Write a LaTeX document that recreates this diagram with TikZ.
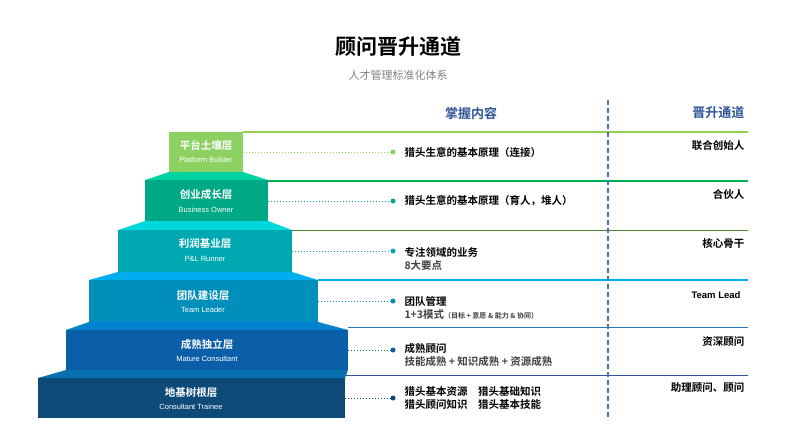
\documentclass[tikz,border=0pt]{standalone}
\usepackage{fontspec}
\setmainfont{Noto Sans CJK SC}
\newfontfamily\cjkb{Noto Sans CJK SC Bold}
\newfontfamily\enf{Liberation Sans}
\definecolor{gA}{HTML}{8DD163}\definecolor{lA}{HTML}{92D050}
\definecolor{tB}{HTML}{00D2A0}\definecolor{gB}{HTML}{00A985}\definecolor{lB}{HTML}{00B050}
\definecolor{tC}{HTML}{00D6DE}\definecolor{gC}{HTML}{00A9B2}\definecolor{lC}{HTML}{548235}
\definecolor{tD}{HTML}{00AEEF}\definecolor{gD}{HTML}{008FBA}\definecolor{lD}{HTML}{00B0F0}
\definecolor{tE}{HTML}{0082CF}\definecolor{gE}{HTML}{0A5FA8}\definecolor{lE}{HTML}{2E75B6}
\definecolor{tF}{HTML}{0871AE}\definecolor{gF}{HTML}{0D4A78}\definecolor{lF}{HTML}{2F5597}
\definecolor{hd}{HTML}{2F5597}\definecolor{dl}{HTML}{4472C4}
\begin{document}
\begin{tikzpicture}[x=1pt,y=-1pt,
  tl/.style={text=white,font=\cjkb\fontsize{10.5}{12}\selectfont,align=center},
  te/.style={text=white,font=\enf\fontsize{7.5}{9}\selectfont},
  ct/.style={anchor=west,font=\cjkb\fontsize{10.5}{13}\selectfont,align=left},
  rt/.style={anchor=east,font=\cjkb\fontsize{10.5}{13}\selectfont},
  dotc/.style={circle,inner sep=0pt,minimum size=5pt}]
\useasboundingbox (0,0) rectangle (807,434);
\node[font=\cjkb\fontsize{21}{24}\selectfont] (title) at (398,47) {顾问晋升通道};
\node[font=\fontsize{11}{13}\selectfont,text=gray] (sub) at (398,75) {人才管理标准化体系};
\node[font=\cjkb\fontsize{13}{15}\selectfont,text=hd] (h1) at (471,113) {掌握内容};
\node[font=\cjkb\fontsize{13}{15}\selectfont,text=hd,anchor=east] (h2) at (748,113) {晋升通道};
% tiers
\newcommand\tier[9]{%
  \fill[#5] (#2,#3) -- (#1,#3) -- (#6,#7) -- (#8,#7) -- cycle;
  \fill[#9] (#6,#7) rectangle (#8,#4);}
\fill[gA] (169,132) rectangle (243,172);
\fill[tB] (169,172) -- (243,172) -- (268,180) -- (145,180) -- cycle;
\fill[gB] (145,180) rectangle (268,221);
\fill[tC] (145,221) -- (268,221) -- (292,230) -- (118,230) -- cycle;
\fill[gC] (118,230) rectangle (292,272);
\fill[tD] (118,272) -- (292,272) -- (318,280) -- (89,280) -- cycle;
\fill[gD] (89,280) rectangle (318,322);
\fill[tE] (89,322) -- (318,322) -- (348,330) -- (66,330) -- cycle;
\fill[gE] (66,330) rectangle (348,370);
\fill[tF] (66,370) -- (348,370) -- (345,378) -- (38,378) -- cycle;
\fill[gF] (38,378) rectangle (345,418);
% lines
\draw[lA,line width=1.5pt] (243,132) -- (748,132);
\draw[lB,line width=1.5pt] (268,181) -- (748,181);
\draw[lC,line width=0.8pt] (292,230) -- (748,230);
\draw[lD,line width=1.3pt] (318,280) -- (748,280);
\draw[lE,line width=0.8pt] (348,327) -- (748,327);
\draw[lF,line width=0.8pt] (345,375) -- (748,375);
\draw[dl,line width=1.8pt,dash pattern=on 5pt off 3pt] (608,100) -- (608,420);
% labels
\node[tl] (a1) at (206,145) {平台土壤层};\node[te] (a2) at (206,160) {Platform Builder};
\node[tl] (b1) at (206,195) {创业成长层};\node[te] (b2) at (206,210) {Business Owner};
\node[tl] (c1) at (205,244) {利润基业层};\node[te] (c2) at (205,259) {P\&L Runner};
\node[tl] (d1) at (203,296) {团队建设层};\node[te] (d2) at (203,310) {Team Leader};
\node[tl] (e1) at (207,345) {成熟独立层};\node[te] (e2) at (207,359) {Mature Consultant};
\node[tl] (f1) at (191,393) {地基树根层};\node[te] (f2) at (191,407) {Consultant Trainee};
% dots and connectors
\foreach \n/\x/\y/\c in {pa/243/152/gA,pb/268/201/gB,pc/292/251/gC,pd/318/301/gD,pe/348/350/gE,pf/345/398/gF}{
  \coordinate (\n) at (\x,\y);
  \node[dotc,fill=\c] (\n d) at (393,\y) {};
  \draw[\c,dotted,line width=1pt] (\n) -- (\n d);}
\node[ct] (ca) at (401,152) {猎头生意的基本原理（连接）};
\node[ct] (cb) at (401,201) {猎头生意的基本原理（育人，堆人）};
\node[ct] (cc) at (401,259) {专注领域的业务\\{\color{darkgray}8大要点}};
\node[ct] (cd) at (401,308) {团队管理\\{\color{darkgray}1+3模式}{\fontsize{7}{8}\selectfont\color{darkgray}（目标 + 意愿 \& 能力 \& 协同）}};
\node[ct] (ce) at (401,355) {成熟顾问\\{\color{darkgray}技能成熟 + 知识成熟 + 资源成熟}};
\node[ct] (cf) at (401,398) {猎头基本资源\quad 猎头基础知识\\猎头顾问知识\quad 猎头基本技能};
% right column
\node[rt] (ra) at (748,146) {联合创始人};
\node[rt] (rb) at (748,194) {合伙人};
\node[rt] (rc) at (748,243) {核心骨干};
\node[rt,font=\enf\bfseries\fontsize{9.5}{11}\selectfont] (rd) at (744,295) {Team Lead};
\node[rt] (re) at (748,342) {资深顾问};
\node[rt] (rf) at (748,388) {助理顾问、顾问};
\end{tikzpicture}
\end{document}
